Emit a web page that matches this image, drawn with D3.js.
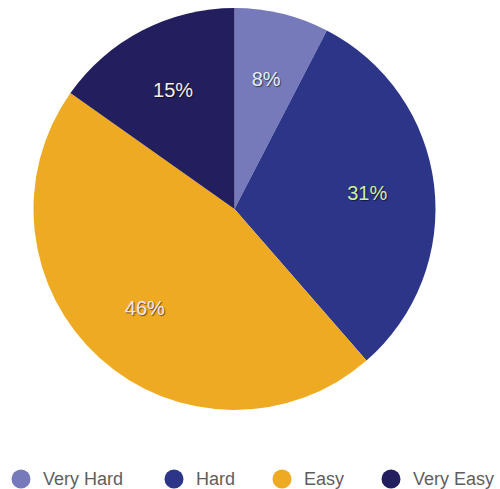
<!DOCTYPE html>
<html>
<head>
<meta charset="utf-8">
<script src="https://cdn.jsdelivr.net/npm/d3@7"></script>
<style>
html,body{margin:0;padding:0;background:#fff;}
svg{display:block;}
</style>
</head>
<body>
<svg id="chart" width="500" height="489"></svg>
<script>
const categories = ["Very Hard", "Hard", "Easy", "Very Easy"];
const values = [7.6, 31.0, 46.2, 15.2];
const sliceLabels = ["8%", "31%", "46%", "15%"];
const colors = ["#7679ba", "#2d3589", "#eeaa22", "#231e5e"];
const labelColors = ["#e4edf4", "#ccf0a4", "#ebe6f6", "#f7efe0"];

const svg = d3.select("#chart");
const cx = 234.5, cy = 209, R = 201;

const pie = d3.pie().sort(null).value(d => d.v);
const data = pie(categories.map((c, i) => ({c, v: values[i], i})));
const arc = d3.arc().innerRadius(0).outerRadius(R);
const labelArc = d3.arc().innerRadius(R * 0.665).outerRadius(R * 0.665);

const g = svg.append("g").attr("transform", `translate(${cx},${cy})`);
g.selectAll("path").data(data).enter().append("path")
  .attr("d", arc)
  .attr("fill", d => colors[d.data.i]);

g.selectAll("text").data(data).enter().append("text")
  .attr("transform", d => `translate(${labelArc.centroid(d)})`)
  .attr("text-anchor", "middle")
  .attr("dy", "0.36em")
  .attr("font-family", "Liberation Sans, Arial, sans-serif")
  .attr("font-size", 20)
  .attr("fill", d => labelColors[d.data.i])
  .style("text-shadow", "1px 1px 1px rgba(0,0,0,0.55)")
  .text(d => sliceLabels[d.data.i]);

// legend
const legendX = [21, 174, 282, 391];
const legY = 479;
const lg = svg.append("g");
categories.forEach((c, i) => {
  lg.append("circle").attr("cx", legendX[i]).attr("cy", legY).attr("r", 9.5).attr("fill", colors[i]);
  lg.append("text").attr("x", legendX[i] + 22).attr("y", legY).attr("dy", "0.36em")
    .attr("font-family", "Liberation Sans, Arial, sans-serif")
    .attr("font-size", 18)
    .attr("fill", "#5e5e5e")
    .text(c);
});
</script>
</body>
</html>
